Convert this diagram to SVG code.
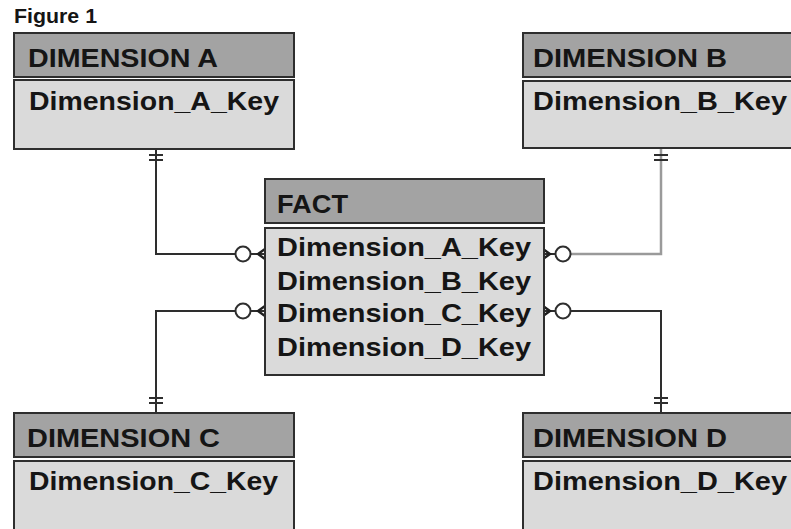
<svg xmlns="http://www.w3.org/2000/svg" width="791" height="529" viewBox="0 0 791 529">
  <style>
    .hdr { fill: #a3a3a3; stroke: #2e2e2e; stroke-width: 2; }
    .body { fill: #dadada; stroke: #2e2e2e; stroke-width: 2; }
    .t { font-family: "Liberation Sans", Arial, sans-serif; font-weight: bold; fill: #151515; }
    .h { font-size: 26px; }
    .k { font-size: 26px; }
    .ln { fill: none; stroke: #2e2e2e; stroke-width: 2; }
    .lg { fill: none; stroke: #9a9a9a; stroke-width: 2.5; }
    .ring { fill: #ffffff; stroke: #2e2e2e; stroke-width: 2; }
    .crow { fill: none; stroke: #1e1e1e; stroke-width: 2.4; }
  </style>

  <rect width="791" height="529" fill="#ffffff"/>

  <text class="t" x="14" y="23" font-size="20" textLength="83" lengthAdjust="spacingAndGlyphs">Figure 1</text>

  <!-- connectors: one-and-only-one bars at the dimension end, zero-or-many at the fact end -->
  <g id="connectors">
    <!-- A: FACT -> DIMENSION A -->
    <path class="ln" d="M156,149 V254 H235"/>
    <path class="ln" d="M149,155 H163 M149,160 H163"/>
    <circle class="ring" cx="243" cy="254" r="7.5"/>
    <path class="ln" d="M250.5,254 H265"/>
    <path class="crow" d="M265,249 L258,254 L265,259"/>

    <!-- B: FACT -> DIMENSION B -->
    <path class="lg" d="M661,148 V254 H571"/>
    <path class="ln" d="M654,155 H668 M654,160 H668"/>
    <circle class="ring" cx="563" cy="254" r="7.5"/>
    <path class="ln" d="M555.5,254 H543"/>
    <path class="crow" d="M543,249 L550,254 L543,259"/>

    <!-- C: FACT -> DIMENSION C -->
    <path class="ln" d="M156,413 V311 H235"/>
    <path class="ln" d="M149,398 H163 M149,403 H163"/>
    <circle class="ring" cx="243" cy="311" r="7.5"/>
    <path class="ln" d="M250.5,311 H265"/>
    <path class="crow" d="M265,306 L258,311 L265,316"/>

    <!-- D: FACT -> DIMENSION D -->
    <path class="ln" d="M661,413 V311 H571"/>
    <path class="ln" d="M654,398 H668 M654,403 H668"/>
    <circle class="ring" cx="563" cy="311" r="7.5"/>
    <path class="ln" d="M555.5,311 H543"/>
    <path class="crow" d="M543,306 L550,311 L543,316"/>
  </g>

  <g id="dimension-a">
    <rect class="hdr" x="14" y="33" width="280" height="44"/>
    <rect class="body" x="14" y="80" width="280" height="69"/>
    <text class="t h" x="28" y="67" textLength="190" lengthAdjust="spacingAndGlyphs">DIMENSION A</text>
    <text class="t k" x="29" y="110" textLength="250" lengthAdjust="spacingAndGlyphs">Dimension_A_Key</text>
  </g>

  <g id="dimension-b">
    <rect class="hdr" x="523" y="33" width="290" height="44"/>
    <rect class="body" x="523" y="81" width="290" height="67"/>
    <text class="t h" x="533" y="67" textLength="194" lengthAdjust="spacingAndGlyphs">DIMENSION B</text>
    <text class="t k" x="533" y="110" textLength="254" lengthAdjust="spacingAndGlyphs">Dimension_B_Key</text>
  </g>

  <g id="fact">
    <rect class="hdr" x="265" y="179" width="279" height="44"/>
    <rect class="body" x="265" y="228" width="279" height="147"/>
    <text class="t h" x="277" y="213" textLength="71" lengthAdjust="spacingAndGlyphs">FACT</text>
    <text class="t k" x="277" y="256" textLength="254" lengthAdjust="spacingAndGlyphs">Dimension_A_Key</text>
    <text class="t k" x="277" y="290" textLength="254" lengthAdjust="spacingAndGlyphs">Dimension_B_Key</text>
    <text class="t k" x="277" y="322" textLength="254" lengthAdjust="spacingAndGlyphs">Dimension_C_Key</text>
    <text class="t k" x="277" y="356" textLength="254" lengthAdjust="spacingAndGlyphs">Dimension_D_Key</text>
  </g>

  <g id="dimension-c">
    <rect class="hdr" x="14" y="413" width="280" height="44"/>
    <rect class="body" x="14" y="461" width="280" height="80"/>
    <text class="t h" x="27" y="447" textLength="193" lengthAdjust="spacingAndGlyphs">DIMENSION C</text>
    <text class="t k" x="29" y="490" textLength="249" lengthAdjust="spacingAndGlyphs">Dimension_C_Key</text>
  </g>

  <g id="dimension-d">
    <rect class="hdr" x="523" y="413" width="290" height="44"/>
    <rect class="body" x="523" y="461" width="290" height="80"/>
    <text class="t h" x="533" y="447" textLength="194" lengthAdjust="spacingAndGlyphs">DIMENSION D</text>
    <text class="t k" x="533" y="490" textLength="254" lengthAdjust="spacingAndGlyphs">Dimension_D_Key</text>
  </g>
</svg>
